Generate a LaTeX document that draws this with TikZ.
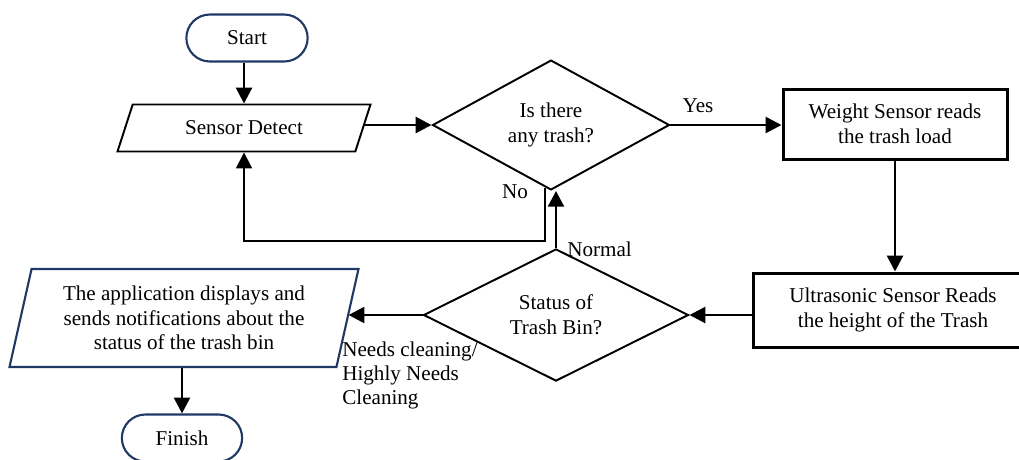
\documentclass[tikz,border=0pt]{standalone}
\usepackage{fontspec}
\setmainfont{Liberation Serif}
\usetikzlibrary{shapes.geometric,shapes.misc,arrows.meta}
\definecolor{navy}{RGB}{31,56,100}
\tikzset{
  arr/.style={line width=1.6pt,-{Triangle[length=9pt,width=9pt]}},
  back/.style={line width=1.1pt,-{Triangle[length=9pt,width=9pt]}},
  terminal/.style={rounded rectangle,draw=navy,line width=1.2pt,minimum width=26.6mm,minimum height=9.4mm},
  iobox/.style={trapezium,trapezium stretches body,draw,line width=1.1pt,inner sep=0pt,align=center},
  decision/.style={diamond,draw,line width=1.1pt,inner sep=0pt,align=center},
  process/.style={rectangle,draw,line width=1.7pt,align=center},
  lbl/.style={inner sep=0pt}
}
\begin{document}
\begin{tikzpicture}[x=0.2mm,y=-0.2mm,font=\fontsize{12}{14}\selectfont]
\clip (0,0) rectangle (1019,459);
\node[terminal] (start) at (247,38) {Start};
\node[iobox,trapezium left angle=43,trapezium right angle=137,minimum width=50.6mm,minimum height=9.4mm] (sensor) at (244,128) {Sensor Detect};
\node[decision,minimum width=47.4mm,minimum height=23.4mm] (trash) at (551,125) {Is there\\any trash?};
\node[process,minimum width=44.8mm,minimum height=14mm] (weight) at (895,124) {Weight Sensor reads\\the trash load};
\node[process,minimum width=56mm,minimum height=14.8mm] (ultra) at (893,310) {Ultrasonic Sensor Reads\\the height of the Trash};
\node[decision,minimum width=53mm,minimum height=22.6mm] (status) at (556,315) {Status of\\Trash Bin?};
\node[iobox,draw=navy,line width=1.2pt,trapezium left angle=71,trapezium right angle=109,minimum width=69.8mm,minimum height=19.6mm] (app) at (184,318) {The application displays and\\sends notifications about the\\status of the trash bin};
\node[terminal,minimum width=26.4mm] (finish) at (182,438) {Finish};
\coordinate (noturn) at (244,241);
\draw[arr] (sensor.north |- start.south) -- (sensor.north);
\draw[arr] (sensor.east |- trash.west) -- (trash.west);
\draw[arr] (trash.east) -- (weight.west |- trash.east);
\draw[arr] (weight.south) -- (weight.south |- ultra.north);
\draw[arr] (ultra.west |- status.east) -- (status.east);
\draw[arr] (status.west) -- (status.west -| app.east);
\draw[arr] (app.south -| finish.north) -- (finish.north);
\draw[arr] (status.north) -- (status.north |- trash.south);
\draw[back] ([xshift=-1.2mm,yshift=0.6mm]trash.south) |- (noturn) -- (sensor.south);
\node[lbl] (yes) at (698,106) {Yes};
\node[lbl] (no) at (515,192) {No};
\node[lbl,anchor=west] (normal) at (567,249) {Normal};
\node[lbl,anchor=north west,align=left,font=\fontsize{12}{13.5}\selectfont] (clean) at (342,342) {Needs cleaning/\\Highly Needs\\Cleaning};
\end{tikzpicture}
\end{document}
